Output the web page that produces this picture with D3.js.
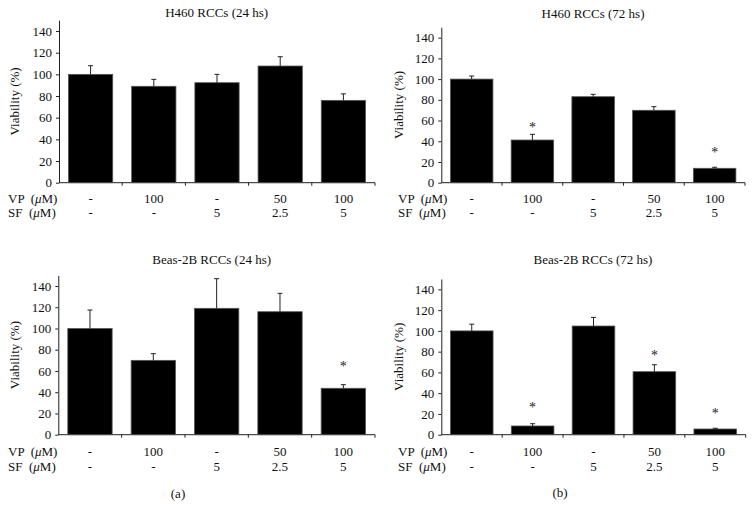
<!DOCTYPE html>
<html><head><meta charset="utf-8">
<script src="https://cdn.jsdelivr.net/npm/d3@7"></script>
<style>body{margin:0;background:#fff}text{font-family:"Liberation Serif","Times New Roman",serif;fill:#111}</style>
</head><body><svg id="c" width="753" height="519"></svg>
<script>
// ---- data ----
const categories = ["A","B","C","D","E"];
const vpLabels = ["-","100","-","50","100"];
const sfLabels = ["-","-","5","2.5","5"];
const yTicks = [0,20,40,60,80,100,120,140];
const yMax = 150;

const titles = ["H460 RCCs (24 hs)","H460 RCCs (72 hs)","Beas-2B RCCs (24 hs)","Beas-2B RCCs (72 hs)"];

const h460_24h_values = [100, 89, 92.3, 107.7, 76];
const h460_24h_errors = [8, 6.4, 7.7, 8.6, 6];
const h460_24h_stars  = [null, null, null, null, null];

const h460_72h_values = [100, 41.2, 83, 69.9, 13.9];
const h460_72h_errors = [3, 5.5, 2.3, 3.5, 1];
const h460_72h_stars  = [null, 55.7, null, null, 31.6];

const beas_24h_values = [100, 70, 119, 115.8, 43.7];
const beas_24h_errors = [17.4, 6.3, 27.9, 17.3, 3.4];
const beas_24h_stars  = [null, null, null, null, 66.6];

const beas_72h_values = [100, 8.4, 104.7, 60.7, 5.5];
const beas_72h_errors = [6.5, 2.2, 8.3, 6.7, 0.7];
const beas_72h_stars  = [null, 28.6, null, 78.4, 23.1];

// ---- layout ----
const panels = [
  {title:titles[0], v:h460_24h_values, e:h460_24h_errors, s:h460_24h_stars,
   left:59, right:375, bottom:182.7, top:20.2, titleX:216.7, titleY:17, ylabX:15, rowX:8, vpY:203, sfY:216.5},
  {title:titles[1], v:h460_72h_values, e:h460_72h_errors, s:h460_72h_stars,
   left:441.3, right:745, bottom:182.7, top:27.3, titleX:593, titleY:18, ylabX:399, rowX:398, vpY:203, sfY:216.5},
  {title:titles[2], v:beas_24h_values, e:beas_24h_errors, s:beas_24h_stars,
   left:58.3, right:375, bottom:434.7, top:275.4, titleX:211.7, titleY:264, ylabX:15, rowX:8, vpY:456, sfY:471},
  {title:titles[3], v:beas_72h_values, e:beas_72h_errors, s:beas_72h_stars,
   left:441.3, right:745.7, bottom:434.7, top:279, titleX:593, titleY:264, ylabX:399, rowX:398, vpY:456, sfY:471}
];

const svg = d3.select("#c");
const FS = 13;

panels.forEach(p => {
  const g = svg.append("g");
  const x = d3.scaleBand().domain(categories).range([p.left, p.right]).paddingInner(0.3).paddingOuter(0.15);
  const y = d3.scaleLinear().domain([0, yMax]).range([p.bottom, p.top]);
  const step = x.step();

  // y axis
  const ya = d3.axisLeft(y).tickValues(yTicks).tickSize(3).tickSizeOuter(0).tickPadding(4);
  const yg = g.append("g").attr("transform", `translate(${p.left},0)`).call(ya);
  yg.attr("font-family", null);
  yg.selectAll("text").style("font-size", FS + "px").style("font-family", '"Liberation Serif",serif').attr("fill","#111");
  yg.selectAll("line,path").attr("stroke", "#222");

  // x axis line + boundary ticks
  g.append("line").attr("x1", p.left).attr("x2", p.right).attr("y1", p.bottom).attr("y2", p.bottom)
    .attr("stroke", "#222");
  categories.forEach((c, i) => {
    const bx = x(c) + x.bandwidth() + step * x.paddingInner() / 2;
    g.append("line").attr("x1", bx).attr("x2", bx).attr("y1", p.bottom).attr("y2", p.bottom + 3)
      .attr("stroke", "#222");
  });

  // bars
  g.selectAll("rect.bar").data(categories).join("rect").attr("class","bar")
    .attr("x", c => x(c)).attr("width", x.bandwidth())
    .attr("y", (c, i) => y(p.v[i])).attr("height", (c, i) => y(0) - y(p.v[i]))
    .attr("fill", "#000").attr("stroke", "#555").attr("stroke-width", 0.8);

  // error bars
  categories.forEach((c, i) => {
    const cx = x(c) + x.bandwidth() / 2;
    const yt = y(p.v[i] + p.e[i]);
    g.append("line").attr("x1", cx).attr("x2", cx).attr("y1", y(p.v[i])).attr("y2", yt).attr("stroke", "#222");
    g.append("line").attr("x1", cx - 2.5).attr("x2", cx + 2.5).attr("y1", yt).attr("y2", yt).attr("stroke", "#222");
    if (p.s[i] != null) {
      g.append("text").attr("x", cx).attr("y", y(p.s[i]) + 7).attr("text-anchor", "middle")
        .style("font-size", "14px").style("fill","#222").text("*");
    }
    g.append("text").attr("x", cx).attr("y", p.vpY).attr("text-anchor", "middle").style("font-size", FS + "px").text(vpLabels[i]);
    g.append("text").attr("x", cx).attr("y", p.sfY).attr("text-anchor", "middle").style("font-size", FS + "px").text(sfLabels[i]);
  });

  // row labels
  [["VP", p.vpY], ["SF", p.sfY]].forEach(([lab, yy]) => {
    const t = g.append("text").attr("x", p.rowX).attr("y", yy).style("font-size", FS + "px").attr("xml:space","preserve");
    t.append("tspan").text(lab + "  (");
    t.append("tspan").style("font-style", "italic").text("\u03BC");
    t.append("tspan").text("M)");
  });

  // title
  g.append("text").attr("x", p.titleX).attr("y", p.titleY).attr("text-anchor", "middle")
    .style("font-size", FS + "px").text(p.title);

  // y label
  const cy = (p.top + p.bottom) / 2;
  g.append("text").attr("transform", `translate(${p.ylabX + 4},${cy}) rotate(-90)`)
    .attr("text-anchor", "middle").style("font-size", FS + "px").text("Viability (%)");
});

svg.append("text").attr("x", 178).attr("y", 498).attr("text-anchor", "middle").style("font-size", FS + "px").text("(a)");
svg.append("text").attr("x", 560).attr("y", 497).attr("text-anchor", "middle").style("font-size", FS + "px").text("(b)");
</script></body></html>
